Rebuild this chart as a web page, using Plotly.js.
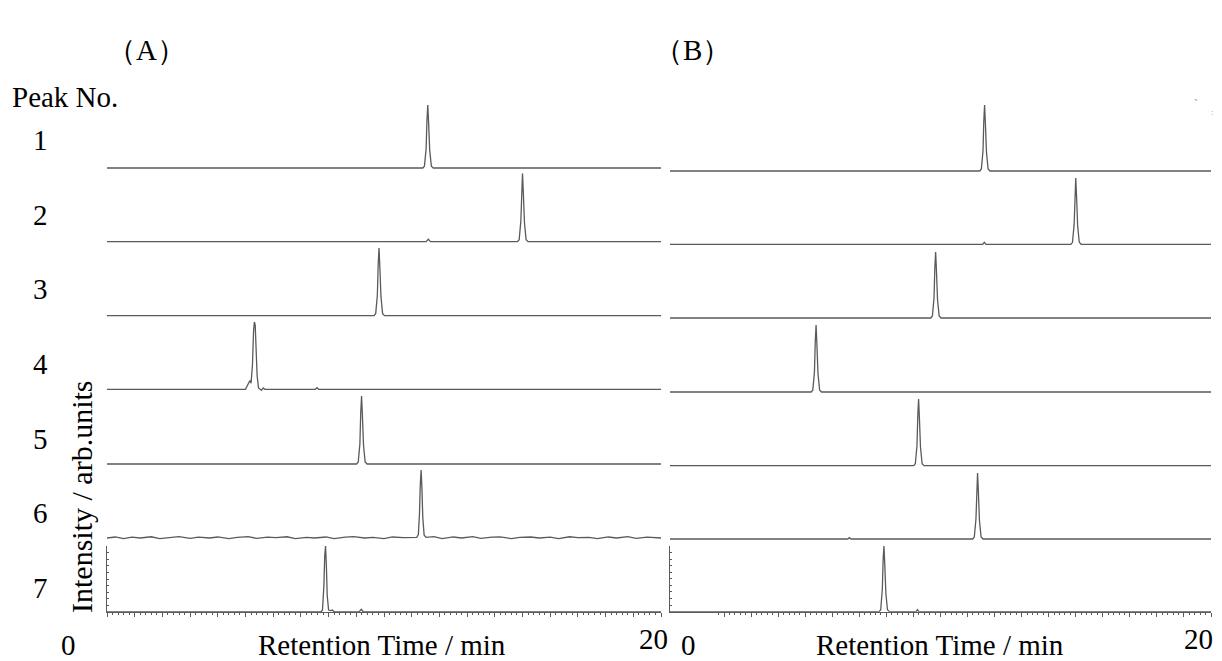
<!DOCTYPE html>
<html>
<head>
<meta charset="utf-8">
<script src="https://cdn.plot.ly/plotly-3.0.1.min.js"></script>
<style>html,body{margin:0;padding:0;background:#fff;}#chart{width:1222px;height:661px;}</style>
</head>
<body>
<div id="chart"></div>
<script>
// ---------- data (retention time in min, intensity normalised per chromatogram) ----------
const peakLabels = ["1","2","3","4","5","6","7"];
const panelLabels = ["（A）","（B）"];
const xTitle = "Retention Time / min";
const yTitle = "Intensity / arb.units";
const xTickLabels = ["0","20"];

// Panel A
const a1_t = [0, 11.40, 11.46, 11.52, 11.55, 11.58, 11.61, 11.65, 11.71, 11.78, 20];
const a1_y = [0, 0, 0.03, 0.30, 0.75, 1.00, 0.72, 0.28, 0.03, 0, 0];
const a2_t = [0, 11.52, 11.60, 11.68, 14.82, 14.88, 14.94, 14.97, 15.00, 15.03, 15.07, 15.13, 15.20, 20];
const a2_y = [0, 0, 0.035, 0, 0, 0.03, 0.30, 0.75, 1.00, 0.72, 0.28, 0.03, 0, 0];
const a3_t = [0, 9.64, 9.70, 9.76, 9.79, 9.82, 9.85, 9.89, 9.95, 10.02, 20];
const a3_y = [0, 0, 0.03, 0.30, 0.75, 1.00, 0.72, 0.28, 0.03, 0, 0];
const a4_t = [0, 5.00, 5.06, 5.12, 5.16, 5.20, 5.25, 5.29, 5.32, 5.35, 5.38, 5.42, 5.47, 5.52, 5.58, 5.64, 5.70, 7.52, 7.58, 7.64, 20];
const a4_y = [0, 0, 0.05, 0.11, 0.13, 0.09, 0.35, 0.85, 1.00, 0.95, 0.60, 0.20, 0.02, 0, -0.015, 0.02, 0, 0, 0.025, 0, 0];
const a5_t = [0, 9.01, 9.07, 9.13, 9.16, 9.19, 9.22, 9.26, 9.32, 9.39, 20];
const a5_y = [0, 0, 0.03, 0.30, 0.75, 1.00, 0.72, 0.28, 0.03, 0, 0];
const a6_t = [0, 0.3, 0.6, 0.9, 1.2, 1.6, 1.9, 2.3, 2.6, 3.0, 3.3, 3.7, 4.0, 4.4, 4.7, 5.1, 5.4, 5.8, 6.1, 6.5, 6.8, 7.2, 7.5, 7.9, 8.2, 8.6, 8.9, 9.3, 9.6, 10.0, 10.3, 10.7, 11.0, 11.18, 11.24, 11.28, 11.31, 11.34, 11.37, 11.40, 11.45, 11.52, 11.8, 12.1, 12.5, 12.8, 13.2, 13.5, 13.9, 14.2, 14.6, 14.9, 15.3, 15.6, 16.0, 16.3, 16.7, 17.0, 17.4, 17.7, 18.1, 18.4, 18.8, 19.1, 19.5, 19.8, 20];
const a6_y = [0, 0.015, -0.01, 0.012, 0, 0.018, -0.008, 0.01, 0.02, -0.005, 0.012, 0, 0.015, -0.01, 0.01, 0.02, -0.005, 0.012, 0.005, 0.018, -0.008, 0.01, 0, 0.015, -0.01, 0.012, 0.02, 0, 0.01, -0.008, 0.015, 0.005, 0.01, 0.01, 0.05, 0.35, 0.78, 1.00, 0.72, 0.30, 0.04, 0.01, 0.02, -0.008, 0.015, 0, 0.02, -0.005, 0.012, 0.018, -0.01, 0.01, 0.015, 0, 0.012, -0.008, 0.018, 0.005, 0.01, -0.01, 0.015, 0, 0.02, -0.005, 0.012, 0.005, 0];
const a7_t = [0, 7.72, 7.78, 7.83, 7.86, 7.89, 7.92, 7.95, 8.00, 8.07, 8.14, 8.20, 9.10, 9.18, 9.26, 20];
const a7_y = [0, 0, 0.03, 0.40, 0.85, 1.00, 0.70, 0.25, 0.03, 0.02, 0.03, 0, 0, 0.04, 0, 0];

// Panel B
const b1_t = [0, 11.45, 11.51, 11.57, 11.60, 11.63, 11.66, 11.70, 11.76, 11.83, 20];
const b1_y = [0, 0, 0.03, 0.30, 0.75, 1.00, 0.72, 0.28, 0.03, 0, 0];
const b2_t = [0, 11.56, 11.62, 11.68, 14.82, 14.88, 14.94, 14.97, 15.00, 15.03, 15.07, 15.13, 15.20, 20];
const b2_y = [0, 0, 0.03, 0, 0, 0.03, 0.30, 0.75, 1.00, 0.72, 0.28, 0.03, 0, 0];
const b3_t = [0, 9.64, 9.70, 9.76, 9.79, 9.82, 9.85, 9.89, 9.95, 10.02, 20];
const b3_y = [0, 0, 0.03, 0.30, 0.75, 1.00, 0.72, 0.28, 0.03, 0, 0];
const b4_t = [0, 5.22, 5.28, 5.34, 5.37, 5.40, 5.43, 5.47, 5.53, 5.60, 20];
const b4_y = [0, 0, 0.03, 0.30, 0.75, 1.00, 0.72, 0.28, 0.03, 0, 0];
const b5_t = [0, 9.01, 9.07, 9.13, 9.16, 9.19, 9.22, 9.26, 9.32, 9.39, 20];
const b5_y = [0, 0, 0.03, 0.30, 0.75, 1.00, 0.72, 0.28, 0.03, 0, 0];
const b6_t = [0, 6.57, 6.63, 6.69, 11.19, 11.25, 11.31, 11.34, 11.37, 11.40, 11.44, 11.50, 11.57, 20];
const b6_y = [0, 0, 0.02, 0, 0, 0.03, 0.30, 0.75, 1.00, 0.72, 0.28, 0.03, 0, 0];
const b7_t = [0, 7.73, 7.79, 7.85, 7.88, 7.91, 7.94, 7.98, 8.04, 8.11, 9.10, 9.15, 9.20, 20];
const b7_y = [0, 0, 0.03, 0.35, 0.80, 1.00, 0.72, 0.28, 0.03, 0, 0, 0.03, 0, 0];

const seriesA = [[a1_t,a1_y],[a2_t,a2_y],[a3_t,a3_y],[a4_t,a4_y],[a5_t,a5_y],[a6_t,a6_y],[a7_t,a7_y]];
const seriesB = [[b1_t,b1_y],[b2_t,b2_y],[b3_t,b3_y],[b4_t,b4_y],[b5_t,b5_y],[b6_t,b6_y],[b7_t,b7_y]];

// ---------- layout geometry (pixels in the 1222x661 figure) ----------
const W = 1222, H = 661;
const panels = [
  {x0: 107, x1: 661, tickStart: 0, base: [168, 241.7, 315.7, 389.3, 464, 538, 612], top: [105, 173.3, 247.7, 321.7, 396, 470, 546]},
  {x0: 670, x1: 1211, tickStart: 1.8, base: [171, 244.3, 318, 392, 465.7, 539, 611.7], top: [105, 178, 252, 325, 399, 473, 546]}
];
const lineColor = "#5a5a5a";
const font = {family: "Liberation Serif, Times New Roman, serif", color: "#000", size: 29};

const traces = [];
const layout = {
  width: W, height: H,
  margin: {l: 0, r: 0, t: 0, b: 0},
  paper_bgcolor: "#fff", plot_bgcolor: "rgba(0,0,0,0)",
  showlegend: false,
  font: font,
  annotations: []
};

[seriesA, seriesB].forEach((series, p) => {
  const g = panels[p];
  const xName = p === 0 ? "x" : "x2";
  const xKey = p === 0 ? "xaxis" : "xaxis2";
  series.forEach((s, k) => {
    const idx = p * 7 + k + 1;
    const yName = idx === 1 ? "y" : "y" + idx;
    const yKey = idx === 1 ? "yaxis" : "yaxis" + idx;
    const last = (k === 6);
    const lo = last ? 0 : -0.03;
    const hi = 1.0;
    const b = g.base[k], t = g.top[k];
    const pxPerUnit = (b - t) / hi;
    const bottomPx = b - lo * pxPerUnit;
    layout[yKey] = {
      domain: [(H - bottomPx) / H, (H - t) / H],
      range: [lo, hi],
      anchor: xName,
      showgrid: false, zeroline: false,
      showticklabels: false,
      showline: last, linecolor: lineColor, linewidth: 1,
      ticks: last ? "inside" : "", ticklen: 2, tickcolor: lineColor, tickwidth: 1,
      dtick: 0.1, tick0: 0,
      fixedrange: true
    };
    traces.push({
      type: "scatter", mode: "lines",
      x: s[0], y: s[1],
      xaxis: xName, yaxis: yName,
      line: {color: lineColor, width: 1.3, shape: "linear"},
      hoverinfo: "skip"
    });
  });
  // tick positions along the time axis (major every 1 min, minor every 0.2 min)
  const major = [], minor = [];
  for (let i = 0; i <= 100; i++) {
    const v = i / 5;
    if (v < g.tickStart - 1e-9) continue;
    if (i % 5 === 0) major.push(v); else minor.push(v);
  }
  layout[xKey] = {
    domain: [g.x0 / W, g.x1 / W],
    range: [0, 20],
    anchor: p === 0 ? "y7" : "y14",
    showgrid: false, zeroline: false,
    showticklabels: false,
    showline: true, linecolor: lineColor, linewidth: 1,
    ticks: "outside", ticklen: 4, tickcolor: lineColor, tickwidth: 1,
    tickmode: "array", tickvals: major,
    minor: {ticks: "outside", ticklen: 2, tickmode: "array", tickvals: minor, tickcolor: lineColor, tickwidth: 1, showgrid: false},
    fixedrange: true
  };
});

function ann(text, px, py, opts) {
  layout.annotations.push(Object.assign({
    text: text, xref: "paper", yref: "paper",
    x: px / W, y: 1 - py / H,
    xanchor: "center", yanchor: "middle",
    showarrow: false, font: font
  }, opts || {}));
}

ann(panelLabels[0], 146, 50);
ann(panelLabels[1], 692, 50);
ann("Peak No.", 10, 97, {xanchor: "left"});
peakLabels.forEach((lab, k) => ann(lab, 40, 140 + k * (588 - 140) / 6));
ann(yTitle, 81, 497, {textangle: -90, font: Object.assign({}, font, {size: 30})});
ann(xTickLabels[0], 68, 645);
ann(xTitle, 382, 645);
ann(xTickLabels[1], 653, 639);
ann(xTickLabels[0], 688, 645);
ann(xTitle, 940, 645);
ann(xTickLabels[1], 1198, 639);
// faint scan marks in the upper right corner of panel (B)
ann("ˋ", 1196, 104, {font: {family: font.family, size: 12, color: "#888"}});
ann(":", 1212, 112, {font: {family: font.family, size: 9, color: "#999"}});

Plotly.newPlot("chart", traces, layout, {staticPlot: true, displayModeBar: false});
</script>
</body>
</html>
